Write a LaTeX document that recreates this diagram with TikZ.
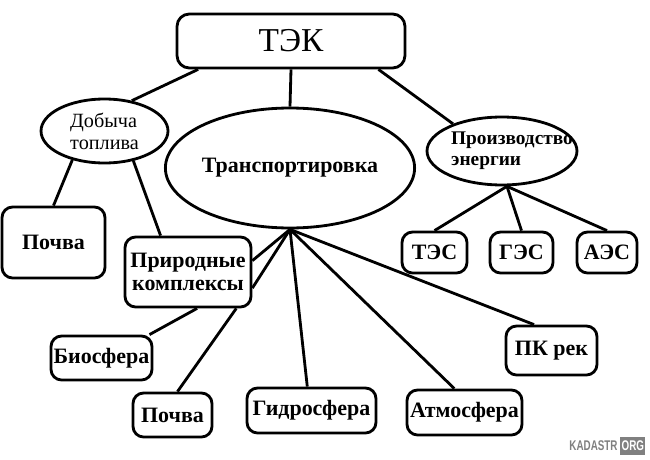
\documentclass[tikz,border=0pt]{standalone}
\usepackage{fontspec}
\setmainfont{Liberation Serif}
\newfontfamily\wmfont[FakeStretch=0.7]{Liberation Sans}
\usetikzlibrary{shapes.geometric}
\definecolor{wmgray}{HTML}{808080}

\begin{document}
\begin{tikzpicture}[
    x=0.02cm, y=-0.02cm,
    line width=1.6pt,
    box/.style={draw, rounded corners=6pt, inner sep=0pt, align=center,
        font=\fontsize{12.5}{13.5}\selectfont\bfseries},
    oval/.style={draw, ellipse, inner sep=0pt, align=left},
    ovaltext/.style={align=left, inner sep=0pt},
]
\useasboundingbox (0,0) rectangle (650,460);

% Top
\node[draw, rounded corners=7pt, minimum width=4.56cm, minimum height=1.08cm,
    font=\fontsize{19}{20}\selectfont] (tek) at (291,41) {ТЭК};

% Ellipses
\node[oval, minimum width=2.54cm, minimum height=1.28cm,
    font=\fontsize{11.5}{12.5}\selectfont] (dob) at (104.5,131) {Добыча\\топлива};
\node[oval, minimum width=4.32cm, minimum height=2.40cm,
    font=\fontsize{12.5}{14}\selectfont\bfseries] (trans) at (290,168) {Транспортировка};
\node[oval, minimum width=3.00cm, minimum height=1.36cm,
    label={[ovaltext, xshift=0.2cm, font=\fontsize{11}{12}\selectfont\bfseries]center:Производство\\энергии}]
    (proiz) at (502,151) {};

% Boxes
\node[box, minimum width=2.06cm, minimum height=1.42cm] (pochvaA) at (53.5,242.5) {Почва};
\node[box, minimum width=2.52cm, minimum height=1.40cm] (prir) at (188,272) {Природные\\комплексы};
\node[box, minimum width=1.30cm, minimum height=0.82cm] (tes) at (434.5,252.5) {ТЭС};
\node[box, minimum width=1.26cm, minimum height=0.82cm] (ges) at (521.5,252.5) {ГЭС};
\node[box, minimum width=1.20cm, minimum height=0.82cm] (aes) at (607,252.5) {АЭС};
\node[box, minimum width=2.02cm, minimum height=0.88cm] (bio) at (101.5,358) {Биосфера};
\node[box, minimum width=1.58cm, minimum height=0.88cm] (pochvaB) at (172.5,415) {Почва};
\node[box, minimum width=2.58cm, minimum height=0.90cm] (gidro) at (311.5,410.5) {Гидросфера};
\node[box, minimum width=2.30cm, minimum height=0.90cm] (atmo) at (464.5,412.5) {Атмосфера};
\node[box, minimum width=1.82cm, minimum height=0.98cm] (pkrek) at (551.5,350.5) {ПК рек};

% Links
\draw (tek.197) -- (dob.48);
\draw (tek.south) -- (trans.north);
\draw (tek.-18) -- (proiz.151);
\draw (dob.222) -- (pochvaA.north);
\draw (dob.-46) -- (prir.127);
\foreach \t in {prir.10, prir.-14, gidro.100, atmo.113, pkrek.124} {
    \draw (trans.south) -- (\t);
}
\draw (prir.-76) -- (bio.26);
\draw (prir.-37) -- (pochvaB.78);
\foreach \t in {tes, ges, aes} {
    \draw (proiz.-82) -- (\t.north);
}

% Watermark
\node[anchor=east, inner sep=0pt, text=wmgray,
    font=\wmfont\fontsize{8}{9}\selectfont\bfseries] (wmtext) at (619,446) {KADASTR};
\node[anchor=west, fill=wmgray, text=white, inner sep=0pt,
    minimum width=0.5cm, minimum height=0.36cm,
    font=\wmfont\fontsize{8}{9}\selectfont\bfseries] (wmorg) at (wmtext.east) {ORG};

\end{tikzpicture}
\end{document}
